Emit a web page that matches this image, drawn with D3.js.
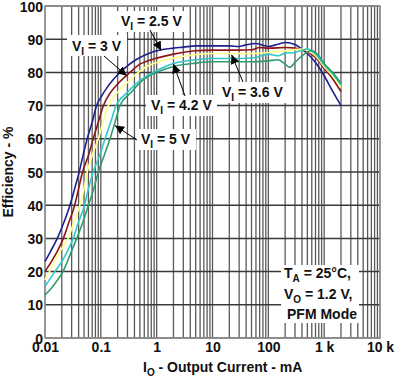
<!DOCTYPE html>
<html><head><meta charset="utf-8">
<script src="https://cdn.jsdelivr.net/npm/d3@7"></script>
<style>body{margin:0;background:#fff}svg{display:block}text{font-family:"Liberation Sans",Arial,sans-serif;font-weight:bold}</style>
</head><body>
<svg id="c" width="401" height="383"></svg>
<script>
const xTickValues = [0.01, 0.1, 1, 10, 100, 1000, 10000];
const xTickLabels = ["0.01", "0.1", "1", "10", "100", "1 k", "10 k"];
const yTickValues = [0, 10, 20, 30, 40, 50, 60, 70, 80, 90, 100];

const seriesNames = ["2.5 V", "3 V", "3.6 V", "4.2 V", "5 V"];
const eff25 = [[0.01,23],[0.0125,26],[0.0166,30],[0.022,35],[0.028,40],[0.034,45],[0.041,50],[0.048,55],[0.057,60],[0.07,65],[0.084,70],[0.1,72.5],[0.13,75.5],[0.17,78],[0.237,80.5],[0.3,82],[0.4,83.5],[0.58,85],[0.8,86],[1,86.5],[2,87.3],[3,87.6],[5,88],[10,88],[20,88],[30,87.8],[40,88.3],[60,88.7],[80,88.2],[100,87.8],[150,88.5],[200,89],[300,88.4],[400,87],[500,85.7],[700,83],[1000,79],[1400,74.5],[2000,70]];
const eff30 = [[0.01,20],[0.013,23],[0.0165,26],[0.0213,30],[0.027,35],[0.034,40],[0.04,45],[0.047,50],[0.06,55],[0.073,60],[0.09,65],[0.111,70],[0.15,74],[0.2,76.5],[0.333,80],[0.5,82.5],[0.7,83.5],[1,84.3],[2,85.5],[5,86.5],[10,86.7],[30,86.7],[50,86.8],[70,87.5],[100,87.3],[200,87.5],[300,87.3],[500,86.2],[700,84.5],[1000,81.2],[1500,77.5],[2000,74.2]];
const eff36 = [[0.01,17.5],[0.012,20],[0.016,24],[0.02,27],[0.026,30],[0.033,35],[0.042,40],[0.05,45],[0.057,50],[0.07,55],[0.09,60],[0.11,65],[0.136,70],[0.2,74],[0.3,77],[0.469,80],[0.7,82],[1,83],[2,84.3],[5,85.3],[10,85.7],[50,85.7],[100,86],[200,86.5],[400,87],[500,86.5],[700,85],[1000,81.7],[1500,78.5],[2000,75.5]];
const eff42 = [[0.01,15.5],[0.015,20],[0.02,23],[0.025,26],[0.032,30],[0.04,35],[0.051,40],[0.06,45],[0.073,50],[0.095,55],[0.119,60],[0.15,65],[0.187,70],[0.3,74],[0.5,77.5],[0.87,80],[1.3,81.5],[2,82.7],[5,83.8],[10,84.2],[30,84.2],[60,84.5],[100,85.5],[150,85],[200,85.8],[300,86],[500,87],[700,85.5],[1000,82.2],[1500,79],[2000,76.2]];
const eff50 = [[0.01,13],[0.013,15],[0.016,17],[0.021,20],[0.028,25],[0.037,30],[0.048,35],[0.06,40],[0.075,45],[0.09,50],[0.115,55],[0.146,60],[0.18,65],[0.22,70],[0.35,74],[0.55,77.5],[1,80],[2,81.8],[5,82.8],[10,83.2],[50,83.2],[100,83.5],[150,83.8],[200,82.5],[240,81.5],[300,83],[400,85],[600,86.5],[800,85],[1000,82.7],[1500,79.5],[2000,76.7]];
const seriesData = [eff25, eff30, eff36, eff42, eff50];
const seriesColors = ["#1f1f8f", "#8e1515", "#ffff8a", "#33c8c8", "#2f9c6c"];

const svg = d3.select("#c");
const L = 45, R = 380, T = 6, B = 338;
const x = d3.scaleLog().domain([0.01, 10000]).range([L, R]);
const y = d3.scaleLinear().domain([0, 100]).range([B, T]);

// vertical grid (1..9 per decade)
const vg = [];
for (let e = -2; e < 4; e++) for (let m = 1; m < 10; m++) vg.push(m * Math.pow(10, e));
vg.push(10000);
const g = svg.append("g");
g.selectAll("line.v").data(vg).join("line")
  .attr("x1", d => x(d)).attr("x2", d => x(d)).attr("y1", T).attr("y2", B)
  .attr("stroke", "#5a5a5a").attr("stroke-width", 1.3);
g.selectAll("line.h").data(yTickValues).join("line")
  .attr("x1", L).attr("x2", R).attr("y1", d => y(d)).attr("y2", d => y(d))
  .attr("stroke", "#3a3a3a").attr("stroke-width", 1.5);
svg.append("rect").attr("x", L).attr("y", T).attr("width", R - L).attr("height", B - T)
  .attr("fill", "none").attr("stroke", "#999").attr("stroke-width", 1.5);

// axis tick labels
const xAxis = d3.axisBottom(x).tickValues(xTickValues).tickFormat((d, i) => xTickLabels[i]).tickSize(0).tickPadding(0);
const xa = svg.append("g").attr("transform", `translate(0,${B})`).call(xAxis);
xa.select(".domain").remove();
xa.selectAll("text").attr("font-size", 14).attr("fill", "#111").attr("font-family", "Liberation Sans").attr("font-weight", "bold").attr("y", 13.7).attr("dy", 0);
const yAxis = d3.axisLeft(y).tickValues(yTickValues).tickSize(0).tickPadding(2);
const ya = svg.append("g").attr("transform", `translate(${L},0)`).call(yAxis);
ya.select(".domain").remove();
ya.selectAll("text").attr("font-size", 14).attr("fill", "#111").attr("font-family", "Liberation Sans").attr("font-weight", "bold").attr("dy", "0.36em");

// white label boxes
const boxes = [[116,11,70,21],[67,35,60,21],[146,95,71,21],[217,82,70,21],[136,129,60,21],[281,265,78,58]];
svg.selectAll("rect.box").data(boxes).join("rect")
  .attr("x", d => d[0]).attr("y", d => d[1]).attr("width", d => d[2]).attr("height", d => d[3]).attr("fill", "#fff");

// curves
const line = d3.line().x(d => x(d[0])).y(d => y(d[1])).curve(d3.curveMonotoneX);
svg.selectAll("path.s").data(seriesData).join("path")
  .attr("d", line).attr("fill", "none")
  .attr("stroke", (d, i) => seriesColors[i]).attr("stroke-width", 1.6);

// labels
function vlabel(px, py, val) {
  const t = svg.append("text").attr("x", px).attr("y", py).attr("font-size", 14).attr("fill", "#111");
  t.append("tspan").text("V");
  t.append("tspan").attr("font-size", 10).attr("dy", 4).text("I");
  t.append("tspan").attr("dy", -4).text(" = " + val);
}
const labelPos = [[121,26],[72,50.5],[222,97],[151,110],[141,144]];
seriesNames.forEach((n, i) => vlabel(labelPos[i][0], labelPos[i][1], n));

// arrows
const defs = svg.append("defs");
defs.append("marker").attr("id", "ah").attr("viewBox", "0 0 10 10").attr("refX", 10).attr("refY", 5)
  .attr("markerWidth", 9).attr("markerHeight", 9).attr("markerUnits", "userSpaceOnUse").attr("orient", "auto")
  .append("path").attr("d", "M0,0 L10,5 L0,10 z").attr("fill", "#000");
const arrowFrom = [[150,30],[104,56],[243,82],[185,96],[137,140]];
const arrowTo = [[1.2,86.6],[0.29,79],[22,85.3],[2,82.5],[0.18,64]];
arrowFrom.forEach((f, i) => {
  svg.append("line").attr("x1", f[0]).attr("y1", f[1])
    .attr("x2", x(arrowTo[i][0])).attr("y2", y(arrowTo[i][1]))
    .attr("stroke", "#000").attr("stroke-width", 1).attr("marker-end", "url(#ah)");
});

// conditions text
const c1 = svg.append("text").attr("x", 284).attr("y", 278).attr("font-size", 14).attr("fill", "#111");
c1.append("tspan").text("T");
c1.append("tspan").attr("font-size", 10).attr("dy", 4).text("A");
c1.append("tspan").attr("dy", -4).text(" = 25°C,");
const c2 = svg.append("text").attr("x", 284).attr("y", 299).attr("font-size", 14).attr("fill", "#111");
c2.append("tspan").text("V");
c2.append("tspan").attr("font-size", 10).attr("dy", 4).text("O");
c2.append("tspan").attr("dy", -4).text(" = 1.2 V,");
svg.append("text").attr("x", 287).attr("y", 318.5).attr("font-size", 14).attr("fill", "#111").text("PFM Mode");

// axis titles
const xt = svg.append("text").attr("x", 143).attr("y", 372).attr("font-size", 14).attr("fill", "#111");
xt.append("tspan").text("I");
xt.append("tspan").attr("font-size", 10).attr("dy", 4).text("O");
xt.append("tspan").attr("dy", -4).text(" - Output Current - mA");
svg.append("text").attr("transform", "translate(12.5,172) rotate(-90)").attr("text-anchor", "middle")
  .attr("font-size", 14).attr("fill", "#111").text("Efficiency - %");
</script>
</body></html>
